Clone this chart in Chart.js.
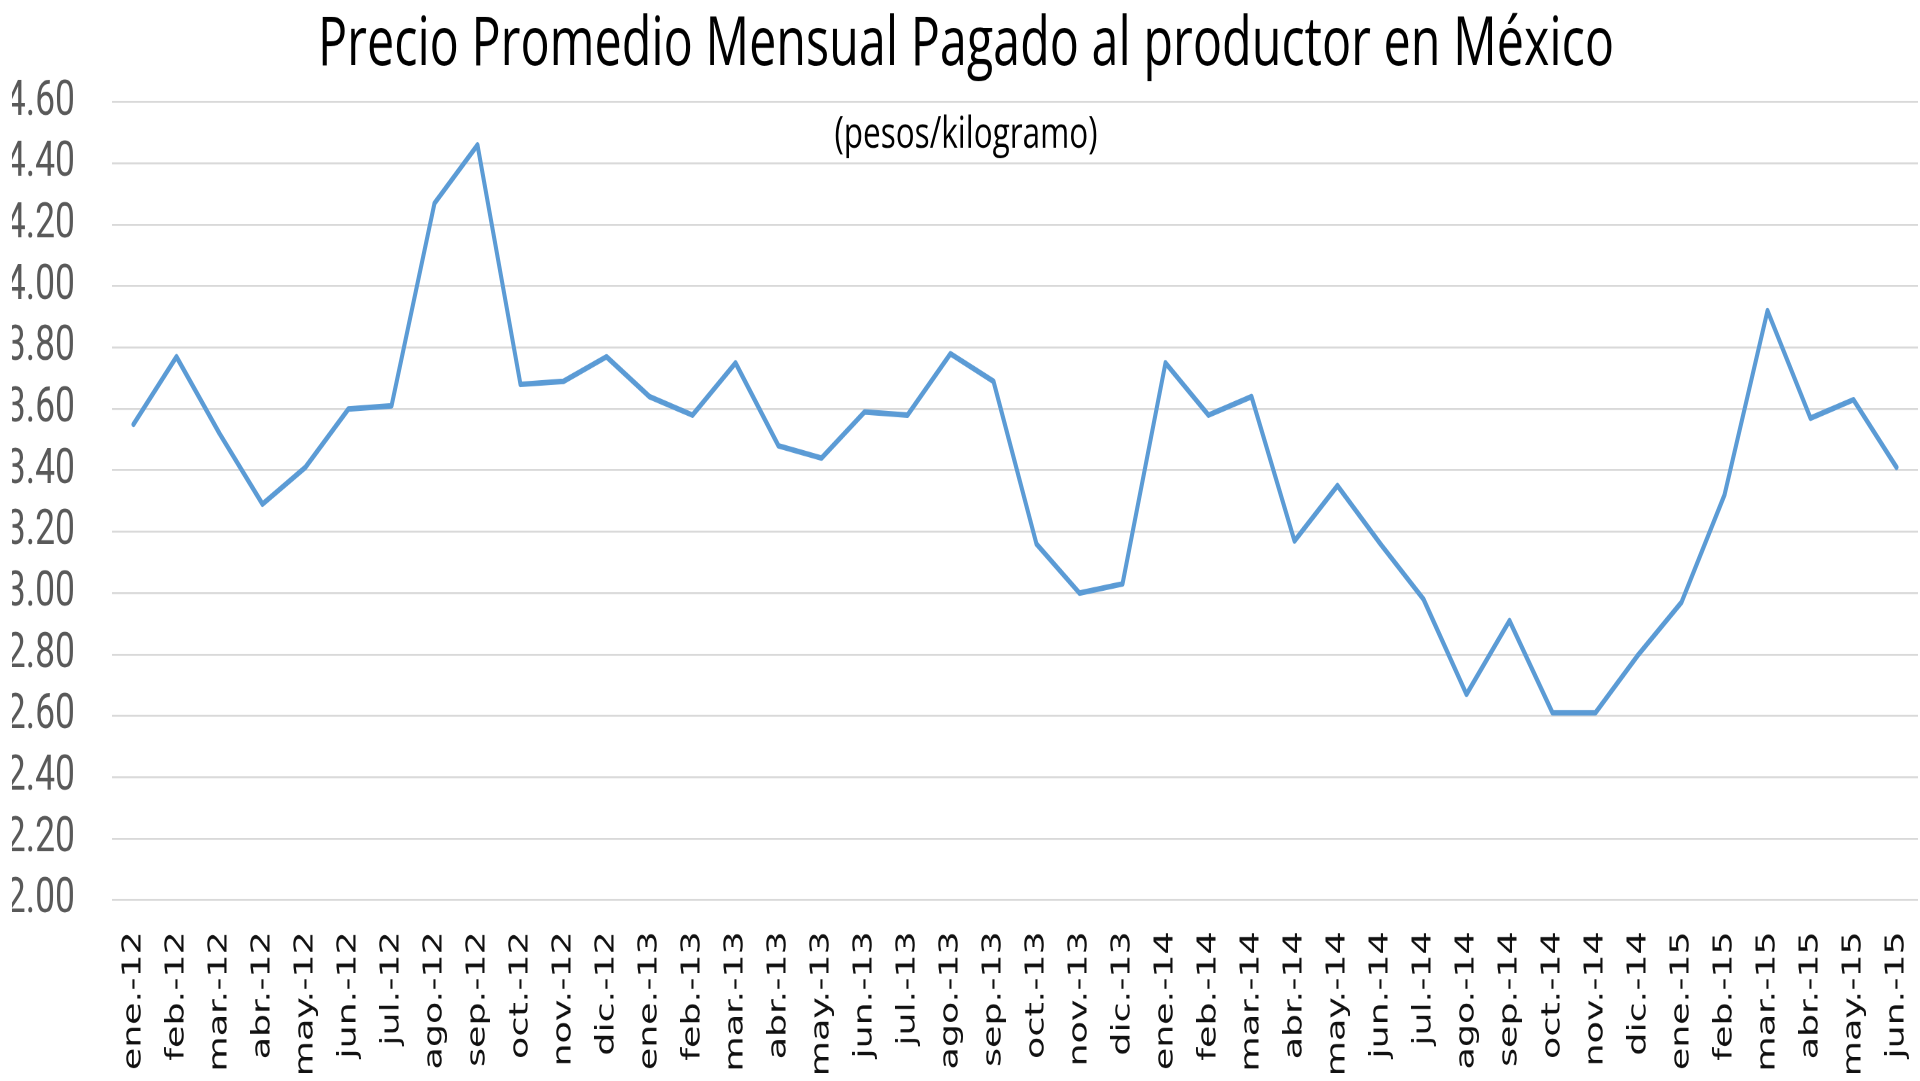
<!DOCTYPE html>
<html lang="es">
<head>
<meta charset="utf-8">
<title>Precio Promedio Mensual Pagado al productor en México</title>
<script src="https://cdn.jsdelivr.net/npm/chart.js@4.4.1/dist/chart.umd.min.js"></script>
<style>
    html { overflow: hidden; }
    html, body { margin: 0; padding: 0; background: #fff; }
    body { width: 1920px; height: 1081px; }
    /* el gráfico se dibuja más bajo y se estira en vertical */
    #marco { width: 1920px; transform-origin: 0 0; }
</style>
</head>
<body>
<div id="marco"><canvas id="precioChart"></canvas></div>
<script>
const ESTIRADO = 1.4;

const meses = [
    'ene.-12', 'feb.-12', 'mar.-12', 'abr.-12', 'may.-12', 'jun.-12',
    'jul.-12', 'ago.-12', 'sep.-12', 'oct.-12', 'nov.-12', 'dic.-12',
    'ene.-13', 'feb.-13', 'mar.-13', 'abr.-13', 'may.-13', 'jun.-13',
    'jul.-13', 'ago.-13', 'sep.-13', 'oct.-13', 'nov.-13', 'dic.-13',
    'ene.-14', 'feb.-14', 'mar.-14', 'abr.-14', 'may.-14', 'jun.-14',
    'jul.-14', 'ago.-14', 'sep.-14', 'oct.-14', 'nov.-14', 'dic.-14',
    'ene.-15', 'feb.-15', 'mar.-15', 'abr.-15', 'may.-15', 'jun.-15'
];

// pesos por kilogramo
const precios = [
    3.55, 3.77, 3.52, 3.29, 3.41, 3.60, 3.61, 4.27, 4.46, 3.68, 3.69, 3.77,
    3.64, 3.58, 3.75, 3.48, 3.44, 3.59, 3.58, 3.78, 3.69, 3.16, 3.00, 3.03,
    3.75, 3.58, 3.64, 3.17, 3.35, 3.16, 2.98, 2.67, 2.91, 2.61, 2.61, 2.80,
    2.97, 3.32, 3.92, 3.57, 3.63, 3.41
];

const marcasY = [2.00, 2.20, 2.40, 2.60, 2.80, 3.00, 3.20, 3.40, 3.60, 3.80, 4.00, 4.20, 4.40, 4.60];

const alto = 1081 / ESTIRADO;
const marco = document.getElementById('marco');
marco.style.height = alto + 'px';
marco.style.transform = 'scaleY(' + ESTIRADO + ')';

let ctx = document.getElementById('precioChart').getContext('2d');

new Chart(ctx, {
    type: 'line',
    data: {
        labels: meses,
        datasets: [{
            label: 'Precio',
            data: precios,
            borderColor: 'rgb(91,155,213)',
            borderWidth: 4,
            borderJoinStyle: 'round',
            borderCapStyle: 'round',
            tension: 0,
            fill: false,
            pointRadius: 0,
        }]
    },
    options: {
        responsive: true,
        maintainAspectRatio: false,
        animation: false,
        devicePixelRatio: 2,
        layout: {
            padding: { left: 12, right: 0, top: 0, bottom: 0 }
        },
        scales: {
            x: {
                offset: true,
                grid: { display: false },
                border: { display: false },
                ticks: {
                    autoSkip: false,
                    minRotation: 90,
                    maxRotation: 90,
                    padding: 14.4,
                    color: '#111',
                    font: { family: 'DejaVu Sans', size: 26 }
                },
                afterFit: function (axis) {
                    axis.height = alto - 900 / ESTIRADO;
                    axis.paddingLeft = 0;
                    axis.paddingRight = 0;
                }
            },
            y: {
                min: 2,
                max: 4.6,
                grid: {
                    color: '#d9d9d9',
                    lineWidth: 1.4,
                    drawTicks: false
                },
                border: { display: false },
                afterBuildTicks: function (axis) {
                    axis.ticks = marcasY.map(v => ({ value: v }));
                },
                ticks: {
                    autoSkip: false,
                    padding: 37,
                    color: '#595959',
                    font: { family: 'Roboto', size: 35.5 },
                    callback: function (value) {
                        return Number(value).toFixed(2);
                    }
                },
                afterFit: function (axis) {
                    axis.width = 100;
                }
            }
        },
        plugins: {
            legend: { display: false },
            tooltip: { enabled: false },
            title: {
                display: true,
                text: 'Precio Promedio Mensual Pagado al productor en México',
                color: '#000',
                font: { family: 'Open Sans', size: 48.5, weight: 'normal', lineHeight: 1.2 },
                padding: { top: 3.7, bottom: 11.0 }
            },
            subtitle: {
                display: true,
                text: '(pesos/kilogramo)',
                color: '#000',
                font: { family: 'Open Sans', size: 31.5, weight: 'normal', lineHeight: 1.2 },
                // sin altura propia: el texto queda sobre el área del gráfico
                padding: { top: 4.9, bottom: -42.7 }
            }
        }
    }
});
</script>
</body>
</html>
